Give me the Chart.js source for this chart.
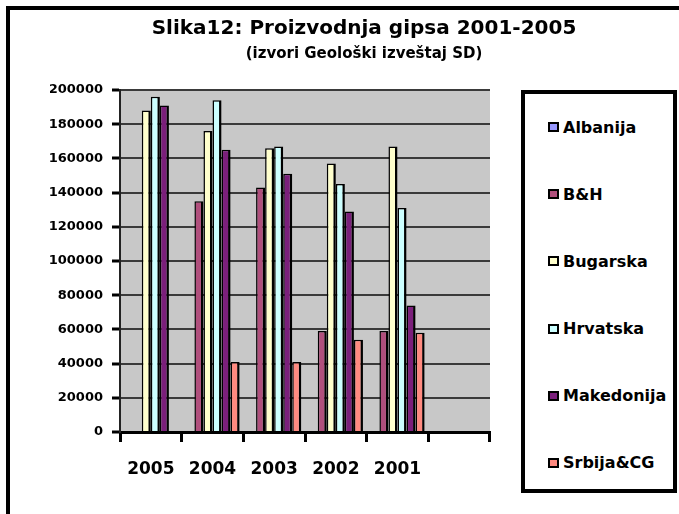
<!DOCTYPE html>
<html>
<head>
<meta charset="utf-8">
<script src="https://cdn.jsdelivr.net/npm/chart.js@4.4.1/dist/chart.umd.min.js"></script>
<style>
    html, body { margin: 0; padding: 0; background: #fff; }
    body { width: 679px; height: 514px; position: relative; overflow: hidden; font-family: 'DejaVu Sans', sans-serif; }
    #frame { position: absolute; left: 6px; top: 6px; width: 720px; height: 540px; border: 4px solid #000; }
    #gipsChart { position: absolute; left: 0; top: 0; }
    .chart-title { position: absolute; left: 0; width: 728px; text-align: center; font-weight: bold; color: #000; white-space: nowrap; }
    #title { top: 17px; font-size: 20px; line-height: 20px; }
    #subtitle { top: 46px; font-size: 15px; line-height: 15px; }
    #legend { position: absolute; left: 521px; top: 90px; width: 156px; height: 403px; box-sizing: border-box; border: 4px solid #000; background: #fff; padding-top: 24px; }
    .legend-item { height: 18px; margin-bottom: 49.2px; display: flex; align-items: center; font-weight: bold; font-size: 16px; color: #000; white-space: nowrap; }
    .legend-box { width: 11px; height: 10px; box-sizing: border-box; border: 2px solid #000; margin-left: 23px; margin-right: 4px; }
</style>
</head>
<body>
<div id="frame"></div>
<canvas id="gipsChart" width="679" height="514"></canvas>
<div class="chart-title" id="title">Slika12: Proizvodnja gipsa 2001-2005</div>
<div class="chart-title" id="subtitle">(izvori Geološki izveštaj SD)</div>
<div id="legend"></div>
<script>
// godine (zadnja kategorija je prazna, kao u originalu)
const years = ['2005', '2004', '2003', '2002', '2001', ''];

// proizvodnja gipsa po zemlji, u tonama
const albanija = [0, 0, 0, 0, 0, null];
const bih = [0, 135000, 143000, 59000, 59000, null];
const bugarska = [188000, 176000, 166000, 157000, 167000, null];
const hrvatska = [196000, 194000, 167000, 145000, 131000, null];
const makedonija = [191000, 165000, 151000, 129000, 74000, null];
const srbija = [0, 41000, 41000, 54000, 58000, null];

const seriesNames = ['Albanija', 'B&H', 'Bugarska', 'Hrvatska', 'Makedonija', 'Srbija&CG'];
const seriesValues = [albanija, bih, bugarska, hrvatska, makedonija, srbija];
const seriesColors = ['#9999ff', '#b04f7c', '#ffffcc', '#ccffff', '#7b1f7b', '#ff8a80'];

const yTicks = { min: 0, max: 200000, step: 20000 };

function fillLegend() {
    const legendEl = document.getElementById('legend');
    seriesNames.forEach((name, index) => {
        const item = document.createElement('div');
        item.className = 'legend-item';
        const box = document.createElement('span');
        box.className = 'legend-box';
        box.style.background = seriesColors[index];
        const label = document.createElement('span');
        label.textContent = name;
        item.appendChild(box);
        item.appendChild(label);
        legendEl.appendChild(item);
    });
}

const plotBackground = {
    id: 'plotBackground',
    beforeDraw(chart) {
        const { ctx, chartArea } = chart;
        ctx.save();
        ctx.fillStyle = '#c8c8c8';
        ctx.fillRect(chartArea.left, chartArea.top, chartArea.right - chartArea.left, chartArea.bottom - chartArea.top);
        ctx.restore();
    },
};

const font = { family: "'DejaVu Sans', sans-serif", weight: 'bold' };

fillLegend();

new Chart(document.getElementById('gipsChart'), {
    type: 'bar',
    data: {
        labels: years,
        datasets: seriesNames.map((name, index) => ({
            label: name,
            data: seriesValues[index],
            backgroundColor: seriesColors[index],
            borderColor: '#000',
            borderWidth: { top: 1.5, left: 1.5, right: 2.5, bottom: 0 },
            categoryPercentage: 0.88,
            barPercentage: 1.0,
        })),
    },
    options: {
        responsive: false,
        animation: false,
        devicePixelRatio: 1,
        layout: {
            padding: { left: 50, right: 189, top: 90, bottom: 22 },
        },
        plugins: {
            legend: { display: false },
            title: { display: false },
            tooltip: { enabled: false },
        },
        scales: {
            x: {
                afterFit(scale) { scale.height = 60; },
                grid: {
                    offset: true,
                    drawOnChartArea: false,
                    drawTicks: true,
                    tickLength: 10,
                    tickColor: '#000',
                    tickWidth: 3,
                },
                border: { color: '#000', width: 3 },
                ticks: {
                    color: '#000',
                    padding: 17,
                    font: { ...font, size: 17 },
                    maxRotation: 0,
                },
            },
            y: {
                min: yTicks.min,
                max: yTicks.max,
                afterFit(scale) { scale.width = 70; },
                grid: {
                    color: '#3a3a3a',
                    lineWidth: 2,
                    tickLength: 8,
                    tickColor: '#000',
                    tickWidth: 3,
                },
                border: { color: '#222', width: 2 },
                ticks: {
                    stepSize: yTicks.step,
                    color: '#000',
                    padding: 9,
                    font: { ...font, size: 13 },
                    callback: value => String(value),
                },
            },
        },
    },
    plugins: [plotBackground],
});
</script>
</body>
</html>
